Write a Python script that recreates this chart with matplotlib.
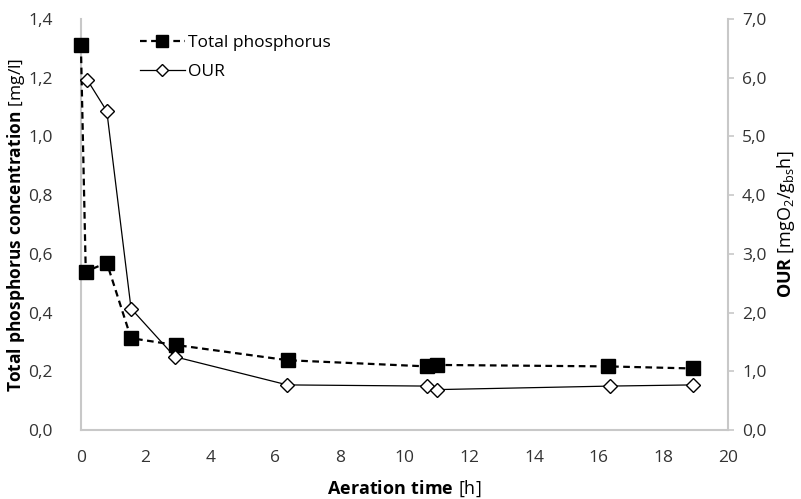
import matplotlib
matplotlib.use("Agg")
import matplotlib.pyplot as plt
from matplotlib.ticker import FuncFormatter, MultipleLocator

plt.rcParams['font.family'] = ['Open Sans', 'DejaVu Sans']
plt.rcParams['mathtext.fontset'] = 'custom'
plt.rcParams['mathtext.rm'] = 'Open Sans'
plt.rcParams['mathtext.it'] = 'Open Sans'
plt.rcParams['mathtext.bf'] = 'Open Sans:bold'

# data
tp_time = [0.0, 0.15, 0.8, 1.55, 2.93, 6.4, 10.7, 11.0, 16.3, 18.9]
tp_conc = [1.31, 0.54, 0.57, 0.313, 0.29, 0.238, 0.217, 0.222, 0.217, 0.21]

our_time = [0.2, 0.8, 1.55, 2.9, 6.38, 10.7, 11.0, 16.35, 18.9]
our_vals = [5.96, 5.43, 2.07, 1.25, 0.77, 0.75, 0.69, 0.75, 0.77]

spine_col = '#c8c8c8'
text_col = '#333333'

fig, ax = plt.subplots(figsize=(8.01, 4.99), dpi=100)
fig.subplots_adjust(left=0.101, right=0.909, top=0.962, bottom=0.138)
ax2 = ax.twinx()

l1, = ax.plot(tp_time, tp_conc, color='black', linestyle=(0, (3, 2)), linewidth=1.6,
              marker='s', markersize=9.5, markerfacecolor='black', zorder=3,
              clip_on=False, label='Total phosphorus')
l2, = ax2.plot(our_time, our_vals, color='black', linewidth=0.9,
               marker='D', markersize=7, markerfacecolor='white',
               markeredgecolor='black', markeredgewidth=1.0, clip_on=False, label='OUR')

ax.set_xlim(0, 20)
ax.set_ylim(0, 1.4)
ax2.set_ylim(0, 7)
ax.xaxis.set_major_locator(MultipleLocator(2))
ax.yaxis.set_major_locator(MultipleLocator(0.2))
ax2.yaxis.set_major_locator(MultipleLocator(1))

comma = FuncFormatter(lambda v, p: f"{v:.1f}".replace('.', ','))
ax.yaxis.set_major_formatter(comma)
ax2.yaxis.set_major_formatter(comma)

for a in (ax, ax2):
    for s in a.spines.values():
        s.set_visible(False)
    a.tick_params(labelsize=12.5, labelcolor=text_col)
ax.spines['left'].set_visible(True)
ax.spines['bottom'].set_visible(True)
ax.spines['left'].set_color(spine_col)
ax.spines['bottom'].set_color(spine_col)
ax.spines['left'].set_linewidth(1.5)
ax.spines['bottom'].set_linewidth(1.5)
ax2.spines['right'].set_visible(True)
ax2.spines['right'].set_color(spine_col)
ax2.spines['right'].set_linewidth(1.5)

ax.tick_params(axis='x', length=0, pad=14)
ax.tick_params(axis='y', length=0, pad=20)
ax2.tick_params(axis='y', length=4, color=spine_col, width=1.2, pad=6)

ax.set_xlabel(r"$\mathbf{Aeration\ time}\ [\mathrm{h}]$", fontsize=13, color='black', labelpad=9)
ax.set_ylabel(r"$\mathbf{Total\ phosphorus\ concentration}\ [\mathrm{mg/l}]$", fontsize=12.5,
              color='black', labelpad=1)
ax2.set_ylabel(r"$\mathbf{OUR}\ [\mathrm{mgO}_2/\mathrm{g}_{\mathrm{bs}}\mathrm{h}]$", fontsize=13,
               color='black', labelpad=6)

leg_l1, = ax.plot([], [], color='black', linestyle=(0, (3, 2)), linewidth=1.6,
                  marker='s', markersize=8, markerfacecolor='black')
leg_l2, = ax.plot([], [], color='black', linewidth=0.9, marker='D', markersize=6,
                  markerfacecolor='white', markeredgecolor='black')
ax.legend([leg_l1, leg_l2], ['Total phosphorus', 'OUR'], loc='upper left',
          bbox_to_anchor=(0.067, 1.0), frameon=False,
          fontsize=12.5, handlelength=2.6, labelspacing=0.75, handletextpad=0.15)

fig.savefig('out.png', dpi=100)
